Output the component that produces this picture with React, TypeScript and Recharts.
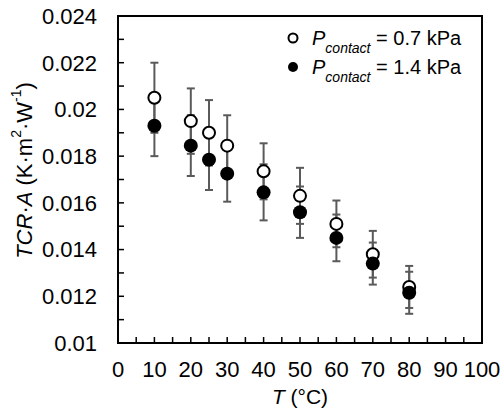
import {
  ErrorBar,
  ReferenceArea,
  Scatter,
  ScatterChart,
  XAxis,
  YAxis,
} from "recharts";

const FONT = "'Liberation Sans', Arial, sans-serif";
const BAR = "#5a5a5a";

const temps = [10, 20, 25, 30, 40, 50, 60, 70, 80];
const lowP = [0.0205, 0.0195, 0.019, 0.01845, 0.01735, 0.0163, 0.0151, 0.0138, 0.0124];
const lowPErr = [0.0015, 0.0014, 0.0014, 0.0013, 0.0012, 0.0012, 0.001, 0.001, 0.0009];
const highP = [0.0193, 0.01845, 0.01785, 0.01725, 0.01645, 0.0156, 0.0145, 0.0134, 0.01215];
const highPErr = [0.0013, 0.0013, 0.0013, 0.0012, 0.0012, 0.0011, 0.001, 0.0009, 0.0009];

const xTicks = [0, 5, 10, 15, 20, 25, 30, 35, 40, 45, 50, 55, 60, 65, 70, 75, 80, 85, 90, 95, 100];
const yTicks = [
  0.01, 0.011, 0.012, 0.013, 0.014, 0.015, 0.016, 0.017, 0.018, 0.019, 0.02,
  0.021, 0.022, 0.023, 0.024,
];
const legendLabels = ["0.7 kPa", "1.4 kPa"];

const lowData = temps.map((t, i) => ({ t, v: lowP[i], err: lowPErr[i] }));
const highData = temps.map((t, i) => ({ t, v: highP[i], err: highPErr[i] }));

function XTick({ x, y, payload }: any) {
  if (payload.value % 10 !== 0) return null;
  return (
    <text x={x} y={y} dy="0.71em" textAnchor="middle" fontSize={22} fontFamily={FONT} fill="#000">
      {payload.value}
    </text>
  );
}

function YTick({ x, y, payload }: any) {
  if (Math.round(payload.value * 1000) % 2 !== 0) return null;
  return (
    <text x={x} y={y} dy="0.355em" textAnchor="end" fontSize={22} fontFamily={FONT} fill="#000">
      {Number(payload.value.toFixed(3)).toString()}
    </text>
  );
}

function NoDot() {
  return <g />;
}

function OpenDot({ cx, cy }: any) {
  return <circle cx={cx} cy={cy} r={6} fill="#fff" stroke="#000" strokeWidth={2} />;
}

function FilledDot({ cx, cy }: any) {
  return <circle cx={cx} cy={cy} r={7} fill="#000" />;
}

function XLabel({ viewBox }: any) {
  return (
    <text
      x={viewBox.x + viewBox.width / 2}
      y={viewBox.y + 61}
      textAnchor="middle"
      fontSize={21}
      fontFamily={FONT}
      fill="#000"
    >
      <tspan fontStyle="italic">T</tspan> (°C)
    </text>
  );
}

function YLabel({ viewBox }: any) {
  const cx = 24;
  const cy = viewBox.y + viewBox.height / 2 - 9;
  return (
    <text
      x={cx}
      y={cy}
      transform={`rotate(-90, ${cx}, ${cy})`}
      textAnchor="middle"
      dominantBaseline="central"
      fontSize={22}
      fontFamily={FONT}
      fill="#000"
    >
      <tspan fontStyle="italic">TCR</tspan>·<tspan fontStyle="italic">A</tspan> (K·m
      <tspan baselineShift="super" fontSize={14}>2</tspan>·W
      <tspan baselineShift="super" fontSize={14}>-1</tspan>)
    </text>
  );
}

function LegendBox() {
  return (
    <svg width={200} height={60} style={{ display: "block" }}>
      {legendLabels.map((lab, i) => (
        <g key={lab} transform={`translate(0, ${i * 29})`}>
          {i === 0 ? (
            <circle cx={8} cy={12} r={4.5} fill="#fff" stroke="#000" strokeWidth={2} />
          ) : (
            <circle cx={8} cy={12} r={5} fill="#000" />
          )}
          <text x={27} y={19} fontSize={20} fontFamily={FONT} fill="#000">
            <tspan fontStyle="italic">P</tspan>
            <tspan fontStyle="italic" fontSize={14} baselineShift="sub">contact</tspan>
            <tspan> = {lab}</tspan>
          </text>
        </g>
      ))}
    </svg>
  );
}

export default function App() {
  return (
    <div style={{ position: "absolute", left: 0, top: 0, width: 503, height: 420, background: "#fff" }}>
      <ScatterChart width={503} height={420} margin={{ top: 16, right: 21, bottom: 37, left: 0 }}>
        <XAxis
          type="number"
          dataKey="t"
          domain={[0, 100]}
          ticks={xTicks}
          interval={0}
          height={40}
          axisLine={false}
          tickSize={-6}
          tickMargin={24}
          tickLine={{ stroke: "#000", strokeWidth: 1.5 }}
          tick={<XTick />}
          label={{ content: <XLabel /> }}
        />
        <YAxis
          type="number"
          dataKey="v"
          domain={[0.01, 0.024]}
          ticks={yTicks}
          interval={0}
          width={118}
          axisLine={false}
          tickSize={-6}
          tickMargin={27}
          tickLine={{ stroke: "#000", strokeWidth: 1.5 }}
          tick={<YTick />}
          label={{ content: <YLabel /> }}
        />
        <ReferenceArea
          x1={0}
          x2={100}
          y1={0.01}
          y2={0.024}
          fill="none"
          fillOpacity={0}
          stroke="#000"
          strokeWidth={2}
        />
        {/* bars first, markers on top, so each series sits over the bars below it */}
        <Scatter data={lowData} shape={<NoDot />} isAnimationActive={false}>
          <ErrorBar dataKey="err" direction="y" width={4} stroke={BAR} strokeWidth={2} />
        </Scatter>
        <Scatter data={lowData} shape={<OpenDot />} isAnimationActive={false} />
        <Scatter data={highData} shape={<NoDot />} isAnimationActive={false}>
          <ErrorBar dataKey="err" direction="y" width={4} stroke={BAR} strokeWidth={2} />
        </Scatter>
        <Scatter data={highData} shape={<FilledDot />} isAnimationActive={false} />
      </ScatterChart>
      <div style={{ position: "absolute", left: 285, top: 26 }}>
        <LegendBox />
      </div>
    </div>
  );
}
